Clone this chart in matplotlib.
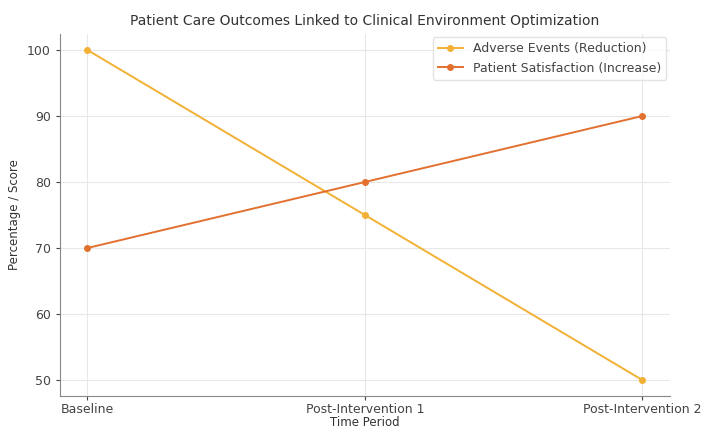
import matplotlib
matplotlib.use("Agg")
from matplotlib import pyplot as plt

# outcome scores per time period
periods = ["Baseline", "Post-Intervention 1", "Post-Intervention 2"]
adverse_events = [100, 75, 50]
patient_satisfaction = [70, 80, 90]

fig = plt.figure(figsize=(7.03, 4.3), dpi=100)
ax = fig.add_axes([0.085, 0.078, 0.868, 0.844])

ax.plot(periods, adverse_events, marker="o", markersize=4, linewidth=1.4,
        color="#f2b134", label="Adverse Events (Reduction)")
ax.plot(periods, patient_satisfaction, marker="o", markersize=4, linewidth=1.4,
        color="#e2702f", label="Patient Satisfaction (Increase)")

ax.set_title("Patient Care Outcomes Linked to Clinical Environment Optimization",
             fontsize=10, color="#333333")
ax.set_xlabel("Time Period", fontsize=8.5, color="#333333", labelpad=0)
ax.set_ylabel("Percentage / Score", fontsize=8.5, color="#333333")
ax.set_yticks([50, 60, 70, 80, 90, 100])
ax.tick_params(labelsize=9, colors="#444444", length=3)
ax.tick_params(axis="x", pad=1.5)
ax.grid(True, color="#e8e8e8", linewidth=0.8)
for side in ["top", "right"]:
    ax.spines[side].set_visible(False)
for side in ["left", "bottom"]:
    ax.spines[side].set_color("#888888")
leg = ax.legend(loc="upper right", fontsize=9, frameon=True, edgecolor="#dddddd",
                borderaxespad=0.3)
for t in leg.get_texts():
    t.set_color("#444444")

fig.savefig("out.png", dpi=100)
